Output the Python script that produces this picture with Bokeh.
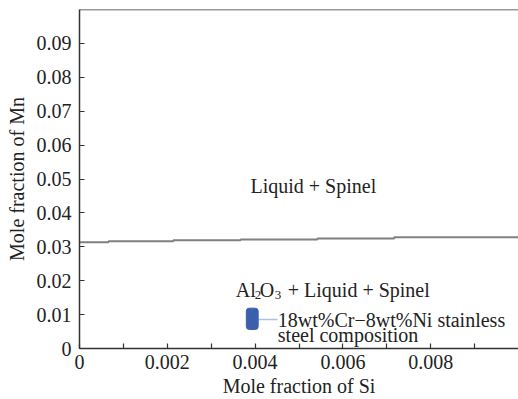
from bokeh.plotting import figure
from bokeh.models import FixedTicker, CustomJSTickFormatter, Span, Range1d
from bokeh.core.properties import value
from bokeh.embed import file_html
from bokeh.resources import INLINE

# ---- data ----
x_ticks = [0, 0.002, 0.004, 0.006, 0.008]
x_tick_labels = ["0", "0.002", "0.004", "0.006", "0.008"]
x_minor_ticks = [0.001, 0.003, 0.005, 0.007, 0.009]
y_ticks = [0, 0.01, 0.02, 0.03, 0.04, 0.05, 0.06, 0.07, 0.08, 0.09]
y_tick_labels = ["0", "0.01", "0.02", "0.03", "0.04", "0.05", "0.06", "0.07", "0.08", "0.09"]

# phase boundary (Al2O3 saturation line)
boundary_si = [0, 0.00066, 0.00214, 0.00367, 0.00542, 0.00717, 0.01]
boundary_mn = [0.03135, 0.03165, 0.0319, 0.03215, 0.03244, 0.0328, 0.0329]

# steel composition box
steel_si = [0.00380, 0.00407]
steel_mn = [0.0056, 0.0119]
leader_si = [0.00407, 0.00451]
leader_mn = [0.00853, 0.00853]

# region labels
region_text = ["Liquid + Spinel"]
region_si = [0.003895]
region_mn = [0.0480]
al2o3_si = [0.00356]
al2o3_mn = [0.01715]
steel_text = ["18wt%Cr\u22128wt%Ni stainless", "steel composition"]
steel_text_si = [0.004517, 0.004517]
steel_text_mn = [0.00853, 0.0039]

FONT = "'Liberation Serif', 'Times New Roman', serif"
TXT = "#222222"
AX = "#333333"

p = figure(width=518, height=399, output_backend="svg", toolbar_location=None,
           x_range=Range1d(0, 0.01), y_range=Range1d(0, 0.1),
           min_border_left=79, min_border_right=0, min_border_top=9, min_border_bottom=51)
p.outline_line_color = None
p.grid.grid_line_color = None
p.background_fill_color = "white"
p.border_fill_color = "white"

# axes
p.xaxis.ticker = FixedTicker(ticks=x_ticks, minor_ticks=x_minor_ticks)
p.yaxis.ticker = FixedTicker(ticks=y_ticks, minor_ticks=[])
p.xaxis.formatter = CustomJSTickFormatter(args=dict(t=x_ticks, l=x_tick_labels), code="""
let best = 0; for (let i = 0; i < t.length; i++) { if (Math.abs(t[i]-tick) < Math.abs(t[best]-tick)) best = i; }
return l[best];""")
p.yaxis.formatter = CustomJSTickFormatter(args=dict(t=y_ticks, l=y_tick_labels), code="""
let best = 0; for (let i = 0; i < t.length; i++) { if (Math.abs(t[i]-tick) < Math.abs(t[best]-tick)) best = i; }
return l[best];""")
for ax in (p.xaxis[0], p.yaxis[0]):
    ax.axis_line_color = AX
    ax.axis_line_width = 1.5
    ax.major_tick_line_color = AX
    ax.major_tick_line_width = 1.2
    ax.major_tick_in = 5
    ax.major_tick_out = 0
    ax.minor_tick_line_color = AX
    ax.minor_tick_line_width = 1.2
    ax.minor_tick_in = 5
    ax.minor_tick_out = 0
    ax.major_label_text_font = FONT
    ax.major_label_text_font_size = "20px"
    ax.major_label_text_color = TXT
    ax.major_label_text_line_height = 1.0
    ax.axis_label_text_font = FONT
    ax.axis_label_text_font_size = "20px"
    ax.axis_label_text_font_style = "normal"
    ax.axis_label_text_color = TXT
    ax.axis_label_text_line_height = 1.0
p.xaxis.axis_label = "Mole fraction of Si"
p.yaxis.axis_label = "Mole fraction of Mn"
p.xaxis.major_label_standoff = 6
p.xaxis.axis_label_standoff = 3
p.yaxis.major_label_standoff = 8
p.yaxis.axis_label_standoff = 6

# top border
p.add_layout(Span(location=0.1, dimension="width", line_color=AX, line_width=1.5))

# boundary line
p.step(boundary_si, boundary_mn, mode="after", line_color="#808080", line_width=2)

# steel composition box + leader
p.segment(x0=[leader_si[0]], y0=[leader_mn[0]], x1=[leader_si[1]], y1=[leader_mn[1]],
          line_color="#aac3e3", line_width=1.5)
p.quad(left=[steel_si[0]], right=[steel_si[1]], bottom=[steel_mn[0]], top=[steel_mn[1]],
       fill_color="#3c5fab", line_color="#3c5fab", line_width=1, border_radius=3)

# labels
common = dict(text_font=value(FONT), text_color=TXT, text_align="left", text_baseline="alphabetic")
p.text(x=region_si, y=region_mn, text=region_text, text_font_size="20px", **common)
p.text(x=al2o3_si, y=al2o3_mn, text=["Al"], text_font_size="20px", **common)
p.text(x=al2o3_si, y=al2o3_mn, text=["2"], text_font_size="13px", x_offset=19, y_offset=5, **common)
p.text(x=al2o3_si, y=al2o3_mn, text=["O"], text_font_size="20px", x_offset=24, **common)
p.text(x=al2o3_si, y=al2o3_mn, text=["3"], text_font_size="13px", x_offset=39, y_offset=5, **common)
p.text(x=al2o3_si, y=al2o3_mn, text=["+ Liquid + Spinel"], text_font_size="20px", x_offset=52, **common)
p.text(x=steel_text_si, y=steel_text_mn, text=steel_text, text_font_size="20px", **common)

open("out.html", "w").write(file_html(p, INLINE))
